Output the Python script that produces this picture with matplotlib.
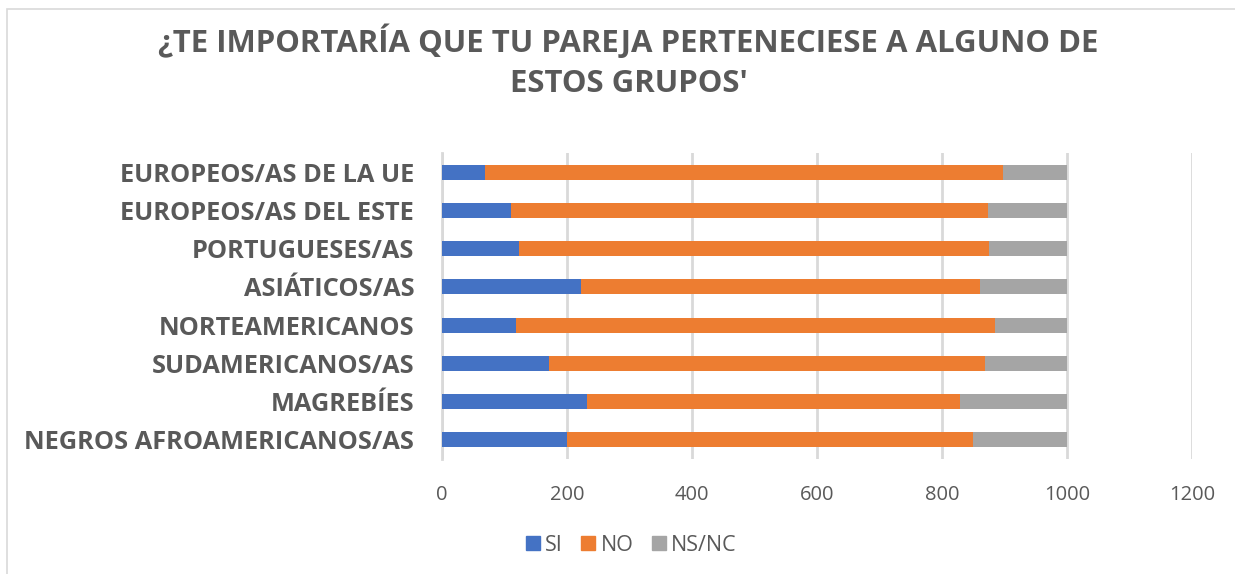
import matplotlib.pyplot as plt
from matplotlib.patches import Rectangle, Patch

categorias = ['NEGROS AFROAMERICANOS/AS', 'MAGREBÍES', 'SUDAMERICANOS/AS',
              'NORTEAMERICANOS', 'ASIÁTICOS/AS', 'PORTUGUESES/AS',
              'EUROPEOS/AS DEL ESTE', 'EUROPEOS/AS DE LA UE']
si = [200, 232, 171, 118, 222, 123, 110, 69]
no = [649, 596, 697, 766, 638, 752, 764, 828]
nsnc = [151, 172, 132, 116, 140, 125, 126, 103]
ticks_x = [0, 200, 400, 600, 800, 1000, 1200]

gris_texto = '#595959'
fuente = ['Open Sans', 'DejaVu Sans']

fig = plt.figure(figsize=(12.35, 5.74), dpi=100)
ax = fig.add_axes([0.3579, 0.2003, 0.6073, 0.5331])

# borde del gráfico
fig.patches.append(Rectangle((7 / 1235, -0.01), 1.02, 1 - 9 / 574 + 0.01,
                             transform=fig.transFigure, fill=False,
                             edgecolor='#d9d9d9', linewidth=1.2))

y = range(len(categorias))
alto = 0.39
ax.barh(y, si, height=alto, color='#4472C4', label='SI', zorder=3)
izq = si
ax.barh(y, no, height=alto, left=izq, color='#ED7D31', label='NO', zorder=3)
izq = [a + b for a, b in zip(si, no)]
ax.barh(y, nsnc, height=alto, left=izq, color='#A5A5A5', label='NS/NC', zorder=3)

ax.set_xlim(0, 1200)
ax.set_ylim(-0.5, len(categorias) - 0.5)
ax.set_xticks(ticks_x)
ax.set_xticklabels([str(t) for t in ticks_x], fontsize=14.5, color=gris_texto, family=fuente)
ax.set_yticks(list(y))
ax.set_yticklabels(categorias, fontsize=18.3, fontweight='bold', color=gris_texto, family=fuente)
ax.tick_params(axis='both', length=0)
ax.tick_params(axis='x', pad=19)
ax.tick_params(axis='y', pad=20)
ax.grid(axis='x', color='#d9d9d9', linewidth=2, zorder=0)
for s in ['top', 'right', 'bottom']:
    ax.spines[s].set_visible(False)
ax.spines['left'].set_color('#d9d9d9')
ax.spines['left'].set_linewidth(2)

fig.text(0.509, 0.892, '¿TE IMPORTARÍA QUE TU PAREJA PERTENECIESE A ALGUNO DE\nESTOS GRUPOS\'',
         ha='center', va='center', fontsize=22.4, fontweight='bold', color=gris_texto,
         family=fuente, linespacing=1.45)

manejadores = [Patch(color='#4472C4', label='SI'), Patch(color='#ED7D31', label='NO'),
               Patch(color='#A5A5A5', label='NS/NC')]
leg = fig.legend(handles=manejadores, loc='center', bbox_to_anchor=(0.511, 0.0505), ncol=3,
                 frameon=False, handlelength=0.65, handleheight=0.65, handletextpad=0.25,
                 columnspacing=0.85, prop={'family': fuente, 'size': 15.5})
for t in leg.get_texts():
    t.set_color(gris_texto)

fig.savefig('out.png', dpi=100)
